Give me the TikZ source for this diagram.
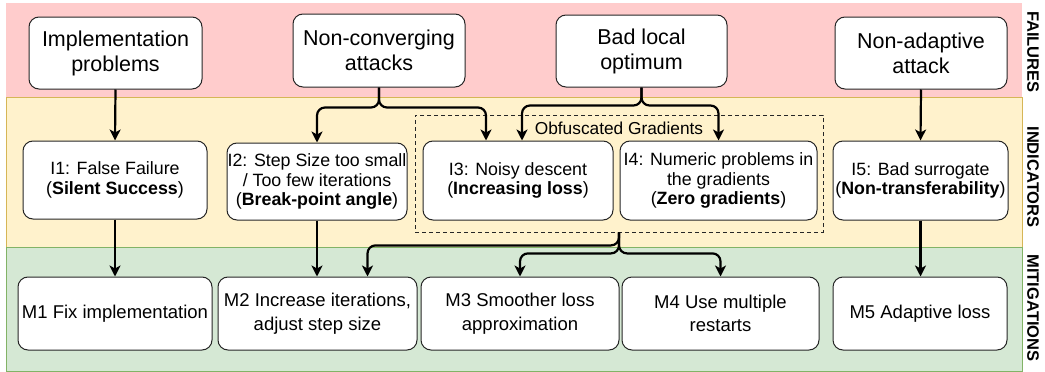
\documentclass[tikz,border=0pt]{standalone}
\usepackage{fontspec}
\setmainfont{Liberation Sans}
\usetikzlibrary{arrows.meta,calc}
\definecolor{redband}{HTML}{FFCCCC}
\definecolor{yelband}{HTML}{FFF2CC}
\definecolor{yelline}{HTML}{D6B656}
\definecolor{grnband}{HTML}{D5E8D4}
\definecolor{grnline}{HTML}{82B366}
\begin{document}
\begin{tikzpicture}[x=1pt,y=-1pt,
  box/.style={draw=black!85, line width=1pt, rounded corners=10pt, fill=white, align=center, inner sep=0pt},
  failbox/.style={box, font=\fontsize{21.5}{25}\selectfont},
  indbox/.style={box, font=\fontsize{17.8}{19.5}\selectfont},
  mitbox/.style={box, font=\fontsize{18.5}{23.5}\selectfont},
  arr/.style={line width=2.2pt, -{Stealth[length=11pt,width=11pt,inset=3pt]}, rounded corners=8pt},
  lanelabel/.style={font=\bfseries\fontsize{16.5}{18}\selectfont, rotate=-90, inner sep=0pt}
]
\useasboundingbox (0,0) rectangle (1045,372);
% bands
\fill[redband] (6,3) rectangle (1022,97);
\draw[yelline, fill=yelband, line width=0.8pt] (6,97) rectangle (1022,247);
\draw[grnline, fill=grnband, line width=0.8pt] (6,247) rectangle (1022,371);
\node[lanelabel] (lfail) at (1033,52) {FAILURES};
\node[lanelabel] (lind) at (1033,177) {INDICATORS};
\node[lanelabel] (lmit) at (1033,308) {MITIGATIONS};
% obfuscated gradients group
\node[draw=black!85, dashed, dash pattern=on 4pt off 3pt, line width=0.8pt, minimum width=408, minimum height=117, inner sep=0pt] (og) at (619,173.5) {};
\node[font=\fontsize{17.3}{19}\selectfont, inner sep=0pt] (oglabel) at (619,128) {Obfuscated Gradients};
% failures
\node[failbox, minimum width=173, minimum height=72] (impl) at (115.5,53) {Implementation\\problems};
\node[failbox, minimum width=172, minimum height=73] (nc) at (379,50.5) {Non-converging\\attacks};
\node[failbox, minimum width=171, minimum height=72] (blo) at (641.5,51) {Bad local\\optimum};
\node[failbox, minimum width=172, minimum height=72] (naa) at (921,53) {Non-adaptive\\attack};
% indicators
\node[indbox, minimum width=184, minimum height=78] (i1) at (115,180) {I1: False Failure\\(\textbf{Silent Success})};
\node[indbox, minimum width=180, minimum height=77] (i2) at (317,181.5) {I2: Step Size too small\\/ Too few iterations\\(\textbf{Break-point angle})};
\node[indbox, minimum width=190, minimum height=79] (i3) at (518,180.5) {I3: Noisy descent\\(\textbf{Increasing loss})};
\node[indbox, minimum width=197, minimum height=79] (i4) at (718.5,180.5) {I4: Numeric problems in\\the gradients\\(\textbf{Zero gradients})};
\node[indbox, minimum width=175, minimum height=79] (i5) at (920.5,180.5) {I5: Bad surrogate\\(\textbf{Non-transferability})};
% mitigations
\node[mitbox, minimum width=194, minimum height=73] (m1) at (115,313.5) {M1 Fix implementation};
\node[mitbox, minimum width=199, minimum height=73] (m2) at (317.5,313.5) {M2 Increase iterations,\\adjust step size};
\node[mitbox, minimum width=198, minimum height=73] (m3) at (520,313.5) {M3 Smoother loss\\approximation};
\node[mitbox, minimum width=197, minimum height=73] (m4) at (720.5,313.5) {M4 Use multiple\\restarts};
\node[mitbox, minimum width=174, minimum height=73] (m5) at (920,313.5) {M5 Adaptive loss};
% connectors
\draw[arr] (impl.south) -- (i1.north);
\draw[arr] (nc.south) -- ++(0,20) -| (i2.north);
\draw[arr] (nc.south) -- ++(0,20) -| ($(i3.north)+(-32,0)$);
\draw[arr] (blo.south) -- ++(0,18) -| ($(i3.north)+(4,0)$);
\draw[arr] (blo.south) -- ++(0,18) -| (i4.north);
\draw[arr] (naa.south) -- (i5.north);
\draw[arr] (i1.south) -- (m1.north);
\draw[arr] (i2.south) -- (m2.north -| i2.south);
\draw[arr] (i5.south) -- (m5.north -| i5.south);
\draw[arr] (og.south) -- ++(0,13) -| ($(m2.north)+(50,0)$);
\draw[arr] (og.south) -- ++(0,21) -| (m3.north);
\draw[arr] (og.south) -- ++(0,21) -| (m4.north);
\end{tikzpicture}
\end{document}
